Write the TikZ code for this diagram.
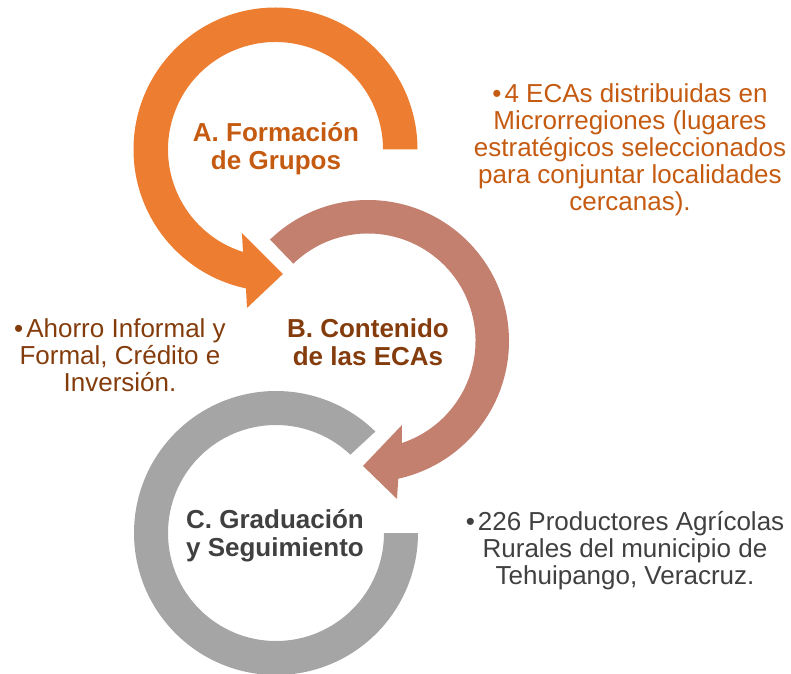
\documentclass[tikz,border=0pt]{standalone}
\usepackage{fontspec}
\setmainfont{Liberation Sans}
\definecolor{ringA}{HTML}{ED7D31}
\definecolor{ringB}{HTML}{C4806F}
\definecolor{ringC}{HTML}{A5A5A5}
\definecolor{txtA}{HTML}{C55A11}
\definecolor{txtB}{HTML}{843C0C}
\definecolor{txtC}{HTML}{404040}
\newcommand{\blt}{•\hspace{3pt}}
\begin{document}
\begin{tikzpicture}[x=1pt,y=1pt,
  title/.style={font=\fontsize{26}{28}\selectfont\bfseries, align=center, inner sep=0pt},
  body/.style={font=\fontsize{26}{27}\selectfont, align=center, inner sep=0pt}]
\useasboundingbox (0,0) rectangle (791,673);
\coordinate (cA) at (275.5,523.5);
\coordinate (cB) at (368,332);
\coordinate (cC) at (276,140);
% ring A
\fill[ringA] ([shift={(0:142)}]cA) arc[start angle=0,end angle=258,radius=142]
  -- ([shift={(259.8:161)}]cA) -- ([shift={(273.4:124.7)}]cA)
  -- ([shift={(248.1:90)}]cA) -- ([shift={(252.4:107.5)}]cA)
  arc[start angle=252.4,end angle=0,radius=107.5] -- cycle;
% ring B
\fill[ringB] ([shift={(134:141)}]cB) arc[start angle=134,end angle=-77.6,radius=141]
  -- ([shift={(-79.6:160.6)}]cB) -- ([shift={(-92.3:125)}]cB)
  -- ([shift={(-68:90.6)}]cB) -- ([shift={(-71.6:107.5)}]cB)
  arc[start angle=-71.6,end angle=134,radius=107.5] -- cycle;
% ring C
\fill[ringC] ([shift={(45.6:142)}]cC) arc[start angle=45.6,end angle=360,radius=142]
  -- ([shift={(0:108)}]cC) arc[start angle=360,end angle=46.5,radius=108] -- cycle;
% titles
\node[title, text=txtA] (tA) at (276,524) {A. Formación\\de Grupos};
\node[title, text=txtB] (tB) at (368,331) {B. Contenido\\de las ECAs};
\node[title, text=txtC] (tC) at (275,137) {C. Graduación\\y Seguimiento};
% notes
\node[body, text=txtA] (nA) at (630,523) {\blt 4 ECAs distribuidas en\\Microrregiones (lugares\\estratégicos seleccionados\\para conjuntar localidades\\cercanas).};
\node[body, text=txtB] (nB) at (120,318) {\blt Ahorro Informal y\\Formal, Crédito e\\Inversión.};
\node[body, text=txtC] (nC) at (625,122) {\blt 226 Productores Agrícolas\\Rurales del municipio de\\Tehuipango, Veracruz.};
\end{tikzpicture}
\end{document}
